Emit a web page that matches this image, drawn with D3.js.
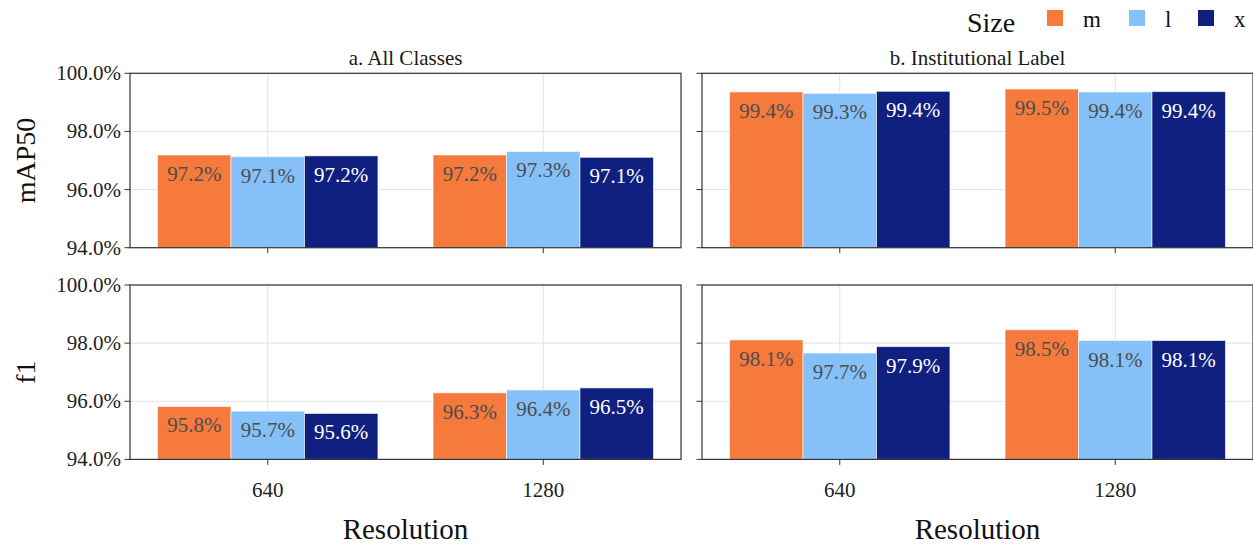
<!DOCTYPE html>
<html>
<head>
<meta charset="utf-8">
<script src="https://cdn.jsdelivr.net/npm/d3@7"></script>
<style>
  body { margin: 0; background: #fff; }
  svg text { font-family: "Liberation Serif", "DejaVu Serif", serif; }
</style>
</head>
<body>
<div id="chart"></div>
<script>
const metrics = ["mAP50", "f1"];
const groups = ["a. All Classes", "b. Institutional Label"];
const resolutions = ["640", "1280"];
const sizes = ["m", "l", "x"];
const yTicks = [94, 96, 98, 100];

// values per resolution, in size order m, l, x
const mapAll = [[97.19, 97.13, 97.16], [97.19, 97.31, 97.11]];
const mapInst = [[99.36, 99.31, 99.38], [99.46, 99.36, 99.37]];
const f1All = [[95.82, 95.66, 95.58], [96.29, 96.39, 96.46]];
const f1Inst = [[98.11, 97.66, 97.88], [98.46, 98.09, 98.09]];

const panelData = [[mapAll, mapInst], [f1All, f1Inst]];

const width = 1253, height = 546;
const colX = [130, 702];
const rowY = [73.3, 285];
const pw = 551, ph = 174.4;

const colors = { m: "#F57A3C", l: "#85C0F9", x: "#0F2080" };
const labelColors = { m: "#4d4d4d", l: "#4d4d4d", x: "#ffffff" };
const fmt = d3.format(".1f");

const svg = d3.select("#chart")
  .append("svg")
  .attr("width", width)
  .attr("height", height);

const x = d3.scaleBand().domain(resolutions).range([0, pw]);
const inner = d3.scaleBand().domain(sizes)
  .range([x.bandwidth() * 0.1, x.bandwidth() * 0.9]);
const y = d3.scaleLinear().domain([94, 100]).range([ph, 0]);

metrics.forEach((metric, r) => {
  groups.forEach((group, c) => {
    const g = svg.append("g")
      .attr("transform", `translate(${colX[c]},${rowY[r]})`);

    // grid
    g.selectAll(".hgrid")
      .data(yTicks)
      .enter()
      .append("line")
      .attr("x1", 0).attr("x2", pw)
      .attr("y1", d => y(d)).attr("y2", d => y(d))
      .attr("stroke", "#e2e2e2").attr("stroke-width", 1);
    g.selectAll(".vgrid")
      .data(resolutions)
      .enter()
      .append("line")
      .attr("x1", d => x(d) + x.bandwidth() / 2).attr("x2", d => x(d) + x.bandwidth() / 2)
      .attr("y1", 0).attr("y2", ph)
      .attr("stroke", "#e2e2e2").attr("stroke-width", 1);

    const rows = [];
    resolutions.forEach((res, i) => {
      sizes.forEach((s, j) => rows.push({ res, size: s, value: panelData[r][c][i][j] }));
    });

    g.selectAll(".bar")
      .data(rows)
      .enter()
      .append("rect")
      .attr("x", d => x(d.res) + inner(d.size))
      .attr("y", d => y(d.value))
      .attr("width", inner.bandwidth())
      .attr("height", d => ph - y(d.value))
      .attr("fill", d => colors[d.size])
      .attr("stroke", "#ffffff")
      .attr("stroke-opacity", 0.6)
      .attr("stroke-width", 1);

    g.selectAll(".lbl")
      .data(rows)
      .enter()
      .append("text")
      .attr("x", d => x(d.res) + inner(d.size) + inner.bandwidth() / 2)
      .attr("y", d => y(d.value) + 26)
      .attr("text-anchor", "middle")
      .attr("font-size", 21)
      .attr("fill", d => labelColors[d.size])
      .text(d => fmt(d.value) + "%");

    // border
    g.append("rect")
      .attr("width", pw).attr("height", ph)
      .attr("fill", "none")
      .attr("stroke", "#333").attr("stroke-width", 1.2);

    // y ticks
    g.selectAll(".yt")
      .data(yTicks)
      .enter()
      .append("line")
      .attr("x1", -5.5).attr("x2", 0)
      .attr("y1", d => y(d)).attr("y2", d => y(d))
      .attr("stroke", "#333").attr("stroke-width", 1);
    if (c === 0) {
      g.selectAll(".ytl")
        .data(yTicks)
        .enter()
        .append("text")
        .attr("x", -9)
        .attr("y", d => y(d) + 7)
        .attr("text-anchor", "end")
        .attr("font-size", 21)
        .attr("fill", "#222")
        .text(d => fmt(d) + "%");
    }

    // x ticks
    g.selectAll(".xt")
      .data(resolutions)
      .enter()
      .append("line")
      .attr("x1", d => x(d) + x.bandwidth() / 2).attr("x2", d => x(d) + x.bandwidth() / 2)
      .attr("y1", ph).attr("y2", ph + 5.5)
      .attr("stroke", "#333").attr("stroke-width", 1);
    if (r === 1) {
      g.selectAll(".xtl")
        .data(resolutions)
        .enter()
        .append("text")
        .attr("x", d => x(d) + x.bandwidth() / 2)
        .attr("y", ph + 37.5)
        .attr("text-anchor", "middle")
        .attr("font-size", 21)
        .attr("fill", "#222")
        .text(d => d);

      svg.append("text")
        .attr("x", colX[c] + pw / 2)
        .attr("y", 539)
        .attr("text-anchor", "middle")
        .attr("font-size", 29)
        .attr("fill", "#111")
        .text("Resolution");
    }

    if (r === 0) {
      svg.append("text")
        .attr("x", colX[c] + pw / 2)
        .attr("y", 65)
        .attr("text-anchor", "middle")
        .attr("font-size", 21)
        .attr("fill", "#1a1a1a")
        .text(group);
    }
  });

  svg.append("text")
    .attr("transform", `translate(35,${rowY[r] + ph / 2}) rotate(-90)`)
    .attr("text-anchor", "middle")
    .attr("font-size", 28)
    .attr("fill", "#111")
    .text(metric);
});

// legend
const legend = svg.append("g");
legend.append("text")
  .attr("x", 967).attr("y", 31.5)
  .attr("font-size", 28)
  .attr("fill", "#111")
  .text("Size");
const keyX = [1047, 1129, 1198];
const items = legend.selectAll(".key")
  .data(sizes)
  .enter()
  .append("g")
  .attr("transform", (d, i) => `translate(${keyX[i]},10)`);
items.append("rect")
  .attr("width", 16).attr("height", 16)
  .attr("fill", d => colors[d]);
items.append("text")
  .attr("x", 36).attr("y", 16.5)
  .attr("font-size", 23)
  .attr("fill", "#111")
  .text(d => d);
</script>
</body>
</html>
